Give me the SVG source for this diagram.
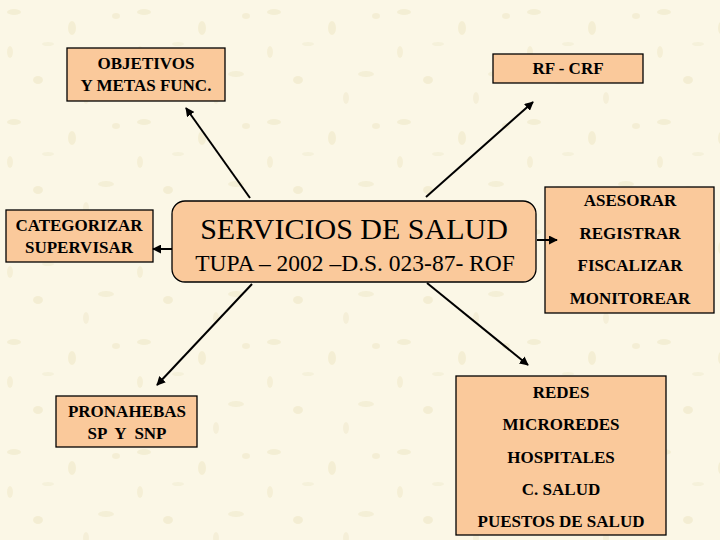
<svg xmlns="http://www.w3.org/2000/svg" width="720" height="540" viewBox="0 0 720 540">
<defs>
<pattern id="tex" x="0" y="0" width="130" height="110" patternUnits="userSpaceOnUse">
<rect width="130" height="110" fill="#FBF7E6"/>
<ellipse cx="14" cy="12" rx="7" ry="3" fill="#EFE8C8" opacity="0.6"/>
<ellipse cx="72" cy="28" rx="4" ry="7" fill="#EEE6C2" opacity="0.5"/>
<ellipse cx="106" cy="74" rx="8" ry="3" fill="#F0E9CB" opacity="0.6"/>
<ellipse cx="38" cy="80" rx="5" ry="4" fill="#ECE4C0" opacity="0.5"/>
<ellipse cx="86" cy="98" rx="3" ry="6" fill="#F1EACE" opacity="0.6"/>
<ellipse cx="10" cy="52" rx="3" ry="6" fill="#EFE7C6" opacity="0.5"/>
<ellipse cx="48" cy="44" rx="6" ry="2" fill="#F2ECD2" opacity="0.6"/>
<ellipse cx="116" cy="16" rx="4" ry="3" fill="#EEE6C4" opacity="0.5"/>
</pattern>
<marker id="ah" viewBox="0 0 10 10" refX="9" refY="5" markerWidth="4.5" markerHeight="4.5" orient="auto" markerUnits="strokeWidth">
<path d="M0,0 L10,5 L0,10 z" fill="#000"/>
</marker>
</defs>
<style>
.box{fill:#FAC99B;stroke:#000;stroke-width:1.3}
.t{font-weight:bold;font-size:17px;fill:#000;text-anchor:middle}
.big{fill:#000;text-anchor:middle;font-weight:normal}
.c{stroke:#000;stroke-width:2;fill:none;marker-end:url(#ah)}
</style>
<rect width="720" height="540" fill="url(#tex)"/>
<g font-family="Liberation Serif, DejaVu Serif, serif">
<g id="objetivos">
<rect class="box" x="67" y="48" width="158" height="53"/>
<text class="t" x="146" y="69">OBJETIVOS</text>
<text class="t" x="146" y="91">Y METAS FUNC.</text>
</g>
<g id="rfcrf">
<rect class="box" x="493" y="54" width="150" height="29"/>
<text class="t" x="568" y="74">RF - CRF</text>
</g>
<g id="categorizar">
<rect class="box" x="6" y="210" width="147" height="52"/>
<text class="t" x="79" y="231">CATEGORIZAR</text>
<text class="t" x="79" y="253">SUPERVISAR</text>
</g>
<g id="servicios">
<rect class="box" x="172" y="201" width="364" height="81" rx="13" ry="13"/>
<text class="big" x="354" y="239" font-size="30">SERVICIOS DE SALUD</text>
<text class="big" x="355" y="271" font-size="23.5">TUPA – 2002 –D.S. 023-87- ROF</text>
</g>
<g id="acciones">
<rect class="box" x="545" y="187" width="169" height="126"/>
<text class="t" x="630" y="206">ASESORAR</text>
<text class="t" x="630" y="239">REGISTRAR</text>
<text class="t" x="630" y="271">FISCALIZAR</text>
<text class="t" x="630" y="304">MONITOREAR</text>
</g>
<g id="pronahebas">
<rect class="box" x="56" y="396" width="141" height="51"/>
<text class="t" x="127" y="417">PRONAHEBAS</text>
<text class="t" x="127" y="439" xml:space="preserve">SP  Y  SNP</text>
</g>
<g id="redes">
<rect class="box" x="456" y="376" width="210" height="159"/>
<text class="t" x="561" y="398">REDES</text>
<text class="t" x="561" y="430">MICROREDES</text>
<text class="t" x="561" y="463">HOSPITALES</text>
<text class="t" x="561" y="495">C. SALUD</text>
<text class="t" x="561" y="527">PUESTOS DE SALUD</text>
</g>
</g>
<g id="connectors">
<line class="c" x1="250" y1="198" x2="186" y2="108"/>
<line class="c" x1="426" y1="197" x2="533" y2="102"/>
<line class="c" x1="172" y1="249" x2="153" y2="249"/>
<line class="c" x1="537" y1="240" x2="557" y2="240"/>
<line class="c" x1="252" y1="284" x2="157" y2="385"/>
<line class="c" x1="427" y1="283" x2="528" y2="365"/>
</g>
</svg>
